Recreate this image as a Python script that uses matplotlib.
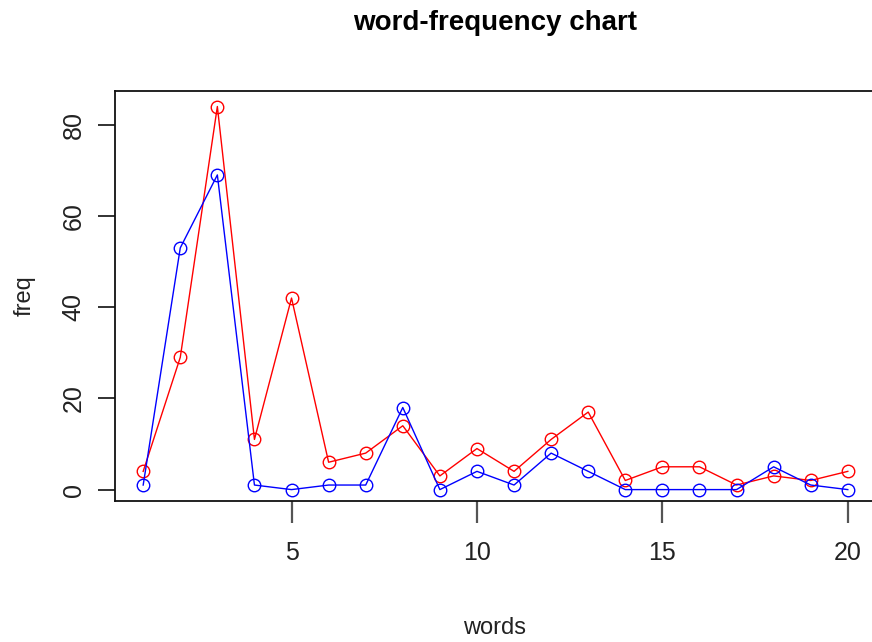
import numpy as np
import matplotlib
matplotlib.use("Agg")
import matplotlib.pyplot as plt

# word-frequency data
words = list(range(1, 21))
freq_red = [4, 29, 84, 11, 42, 6, 8, 14, 3, 9, 4, 11, 17, 2, 5, 5, 1, 3, 2, 4]
freq_blue = [1, 53, 69, 1, 0, 1, 1, 18, 0, 4, 1, 8, 4, 0, 0, 0, 0, 5, 1, 0]
x_ticks = [5, 10, 15, 20]
y_ticks = [0, 20, 40, 60, 80]

font = ["Liberation Sans", "DejaVu Sans"]

fig = plt.figure(figsize=(8.72, 6.42), dpi=100)
ax = fig.add_axes([115 / 872, 141 / 642, 761 / 872, 410 / 642])

ax.plot(words, freq_red, color="red", lw=1.0, marker="o", ms=9,
        mfc="none", mec="red", mew=1.0)
ax.plot(words, freq_blue, color="blue", lw=1.0, marker="o", ms=9,
        mfc="none", mec="blue", mew=1.0)

# padding like R's default axis range
ax.set_xlim(1 - 0.76, 20 + 0.76)
ax.set_ylim(-2.5, 87.4)

ax.set_xticks(x_ticks)
ax.set_yticks(y_ticks)
ax.set_xticklabels([str(t) for t in x_ticks], family=font, fontsize=18,
                   color="#222222")
ax.set_yticklabels([str(t) for t in y_ticks], family=font, fontsize=18,
                   rotation=90, va="center", color="#222222")
ax.tick_params(axis="x", length=16, width=1.6, color="#555555", pad=13)
ax.tick_params(axis="y", length=12, width=1.3, color="#222222", pad=9)

for s in ax.spines.values():
    s.set_linewidth(1.3)
    s.set_color("#111111")

fig.text(495 / 872, 1 - 628 / 642, "words", family=font, fontsize=17,
         color="#222222", ha="center", va="center")
fig.text(25 / 872, 1 - 296 / 642, "freq", family=font, fontsize=17,
         color="#222222", ha="center", va="center", rotation=90)

fig.text(495 / 872, 1 - 23 / 642, "word-frequency chart", family=font,
         fontsize=20, fontweight="bold", ha="center", va="center")

fig.savefig("out.png", dpi=100)
